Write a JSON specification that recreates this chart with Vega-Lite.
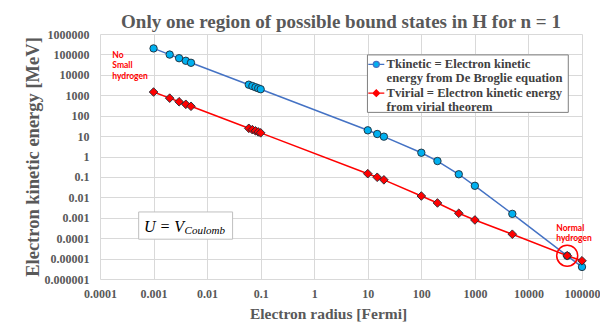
{
  "$schema": "https://vega.github.io/schema/vega-lite/v6.json",
  "width": 482,
  "height": 245,
  "autosize": {"type": "none"},
  "padding": {"left": 100, "top": 34, "right": 18, "bottom": 46},
  "background": "white",
  "title": {
    "text": "Only one region of possible bound states in H for n = 1",
    "font": "Liberation Serif",
    "fontSize": 19,
    "fontWeight": "bold",
    "color": "#595959",
    "anchor": "middle",
    "frame": "group",
    "baseline": "alphabetic",
    "offset": 7,
    "dy": 26
  },
  "datasets": {
    "pts": [
      {"r": 0.001, "T": 197000, "series": "Tkinetic"},
      {"r": 0.002, "T": 98150, "series": "Tkinetic"},
      {"r": 0.003, "T": 65270, "series": "Tkinetic"},
      {"r": 0.004, "T": 48820, "series": "Tkinetic"},
      {"r": 0.005, "T": 38950, "series": "Tkinetic"},
      {"r": 0.06, "T": 3290, "series": "Tkinetic"},
      {"r": 0.07, "T": 2819, "series": "Tkinetic"},
      {"r": 0.08, "T": 2466, "series": "Tkinetic"},
      {"r": 0.09, "T": 2192, "series": "Tkinetic"},
      {"r": 0.1, "T": 1973, "series": "Tkinetic"},
      {"r": 10, "T": 19.2, "series": "Tkinetic"},
      {"r": 15, "T": 12.65, "series": "Tkinetic"},
      {"r": 20, "T": 9.37, "series": "Tkinetic"},
      {"r": 100, "T": 1.53, "series": "Tkinetic"},
      {"r": 200, "T": 0.6, "series": "Tkinetic"},
      {"r": 500, "T": 0.135, "series": "Tkinetic"},
      {"r": 1000, "T": 0.0367, "series": "Tkinetic"},
      {"r": 5000, "T": 0.00155, "series": "Tkinetic"},
      {"r": 52918, "T": 0.0000136, "series": "Tkinetic"},
      {"r": 100000, "T": 0.0000039, "series": "Tkinetic"},
      {"r": 0.001, "T": 1440, "series": "Tvirial"},
      {"r": 0.002, "T": 720, "series": "Tvirial"},
      {"r": 0.003, "T": 480, "series": "Tvirial"},
      {"r": 0.004, "T": 360, "series": "Tvirial"},
      {"r": 0.005, "T": 288, "series": "Tvirial"},
      {"r": 0.06, "T": 24, "series": "Tvirial"},
      {"r": 0.07, "T": 20.6, "series": "Tvirial"},
      {"r": 0.08, "T": 18, "series": "Tvirial"},
      {"r": 0.09, "T": 16, "series": "Tvirial"},
      {"r": 0.1, "T": 14.4, "series": "Tvirial"},
      {"r": 10, "T": 0.144, "series": "Tvirial"},
      {"r": 15, "T": 0.096, "series": "Tvirial"},
      {"r": 20, "T": 0.072, "series": "Tvirial"},
      {"r": 100, "T": 0.0116, "series": "Tvirial"},
      {"r": 200, "T": 0.0053, "series": "Tvirial"},
      {"r": 500, "T": 0.00166, "series": "Tvirial"},
      {"r": 1000, "T": 0.00078, "series": "Tvirial"},
      {"r": 5000, "T": 0.000156, "series": "Tvirial"},
      {"r": 52918, "T": 0.0000138, "series": "Tvirial"},
      {"r": 100000, "T": 0.0000078, "series": "Tvirial"}
    ]
  },
  "layer": [
    {
      "data": {"name": "pts"},
      "mark": {"type": "line", "strokeWidth": 1.5},
      "encoding": {
        "x": {
          "field": "r", "type": "quantitative",
          "scale": {"type": "log", "domain": [0.0001, 100000], "nice": false},
          "axis": {
            "title": "Electron radius [Fermi]",
            "values": [0.0001, 0.001, 0.01, 0.1, 1, 10, 100, 1000, 10000, 100000],
            "format": "~f",
            "labelFlush": false,
            "labelPadding": 9,
            "titlePadding": 7,
            "titleX": 228,
            "titleFontSize": 15.5
          }
        },
        "y": {
          "field": "T", "type": "quantitative",
          "scale": {"type": "log", "domain": [0.000001, 1000000], "nice": false},
          "axis": {
            "title": "Electron kinetic energy  [MeV]",
            "values": [0.000001, 0.00001, 0.0001, 0.001, 0.01, 0.1, 1, 10, 100, 1000, 10000, 100000, 1000000],
            "format": "~f",
            "labelFlush": false,
            "labelPadding": 11,
            "titlePadding": 2,
            "titleFontSize": 18.5
          }
        },
        "color": {
          "field": "series", "type": "nominal",
          "scale": {"domain": ["Tkinetic", "Tkinetic2", "Tvirial", "Tvirial2"], "range": ["#4472C4", "#4472C4", "#FF0000", "#FF0000"]},
          "legend": {
            "orient": "none",
            "legendX": 266,
            "legendY": 20,
            "zindex": 5,
            "title": null,
            "padding": 4,
            "labelFont": "Liberation Serif",
            "labelFontSize": 12.6,
            "labelFontWeight": "bold",
            "labelColor": "#404040",
            "labelLimit": 400,
            "labelOffset": 4,
            "labelBaseline": "middle",
            "rowPadding": 0.2,
            "symbolSize": 100,
            "labelExpr": "datum.value == 'Tkinetic' ? 'Tkinetic = Electron kinetic' : datum.value == 'Tkinetic2' ? 'energy from De Broglie equation' : datum.value == 'Tvirial' ? 'Tvirial = Electron kinetic energy' : 'from virial theorem'",
            "encode": {
              "symbols": {
                "update": {
                  "shape": {"signal": "datum.value == 'Tkinetic' ? 'M-1.6,0L-0.6,0M0.6,0L1.6,0M0.6,0A0.6,0.6,0,1,1,-0.6,0A0.6,0.6,0,1,1,0.6,0Z' : 'M-1.6,0.3L-0.65,0.3M0.65,0.3L1.6,0.3M-0.65,0.3L0,-0.35L0.65,0.3L0,0.95Z'"},
                  "fill": {"signal": "datum.value == 'Tkinetic' ? '#00B0F0' : '#FF0000'"},
                  "stroke": {"signal": "datum.value == 'Tkinetic' ? '#4472C4' : '#FF0000'"},
                  "strokeWidth": {"value": 1.3},
                  "opacity": {"signal": "datum.value == 'Tkinetic' || datum.value == 'Tvirial' ? 1 : 0"},
                  "fillOpacity": {"value": 1}
                }
              },
              "labels": {"update": {"dy": {"signal": "datum.value == 'Tkinetic2' ? -2 : datum.value == 'Tvirial' ? 1.5 : 0"}}}
            }
          }
        }
      }
    },
    {
      "data": {"name": "pts"},
      "mark": {"type": "point", "filled": true, "stroke": "#1f2a36", "strokeWidth": 0.9, "opacity": 1},
      "encoding": {
        "x": {"field": "r", "type": "quantitative"},
        "y": {"field": "T", "type": "quantitative"},
        "fill": {
          "field": "series", "type": "nominal",
          "scale": {"domain": ["Tkinetic", "Tvirial"], "range": ["#00B0F0", "#FF0000"]},
          "legend": null
        },
        "shape": {
          "field": "series", "type": "nominal",
          "scale": {"domain": ["Tkinetic", "Tvirial"], "range": ["circle", "diamond"]},
          "legend": null
        },
        "size": {
          "field": "series", "type": "nominal",
          "scale": {"domain": ["Tkinetic", "Tvirial"], "range": [55, 75]},
          "legend": null
        }
      }
    },
    {
      "data": {"values": [{}]},
      "mark": {"type": "point", "shape": "circle", "filled": false, "stroke": "#FF0000", "strokeWidth": 1.5, "size": 441, "opacity": 1},
      "encoding": {
        "x": {"datum": 52918, "type": "quantitative"},
        "y": {"datum": 0.0000138, "type": "quantitative"}
      }
    },
    {
      "data": {"values": [{}]},
      "mark": {"type": "text", "font": "Lato", "fontWeight": "bold", "fontSize": 8.5, "color": "#FF0000", "align": "left", "baseline": "middle", "lineHeight": 10.5},
      "encoding": {
        "x": {"datum": 0.00017, "type": "quantitative"},
        "y": {"datum": 94600, "type": "quantitative"},
        "text": {"value": ["No", "Small", "hydrogen"]}
      }
    },
    {
      "data": {"values": [{}]},
      "mark": {"type": "text", "font": "Lato", "fontWeight": "bold", "fontSize": 8.5, "color": "#FF0000", "align": "left", "baseline": "middle", "lineHeight": 10},
      "encoding": {
        "x": {"datum": 33100, "type": "quantitative"},
        "y": {"datum": 0.000333, "type": "quantitative"},
        "text": {"value": ["Normal", "hydrogen"]}
      }
    },
    {
      "data": {"values": [{}]},
      "mark": {"type": "rect", "fill": "white", "stroke": "#bfbfbf", "strokeWidth": 1},
      "encoding": {
        "x": {"datum": 0.000527, "type": "quantitative"},
        "x2": {"datum": 0.0299},
        "y": {"datum": 0.00192, "type": "quantitative"},
        "y2": {"datum": 0.0000891}
      }
    },
    {
      "data": {"values": [{}]},
      "mark": {"type": "text", "font": "Liberation Serif", "fontStyle": "italic", "fontSize": 16, "color": "#000000", "align": "left", "baseline": "alphabetic"},
      "encoding": {
        "x": {"datum": 0.000662, "type": "quantitative"},
        "y": {"datum": 0.00019, "type": "quantitative"},
        "text": {"value": "U = V"}
      }
    },
    {
      "data": {"values": [{}]},
      "mark": {"type": "text", "font": "Liberation Serif", "fontStyle": "italic", "fontSize": 11, "color": "#000000", "align": "left", "baseline": "alphabetic"},
      "encoding": {
        "x": {"datum": 0.0038, "type": "quantitative"},
        "y": {"datum": 0.000166, "type": "quantitative"},
        "text": {"value": "Coulomb"}
      }
    },
    {
      "data": {"values": [{}]},
      "mark": {"type": "rect", "fill": "white", "stroke": "#7f7f7f", "strokeWidth": 1},
      "encoding": {
        "x": {"datum": 9.86, "type": "quantitative"},
        "x2": {"datum": 55460},
        "y": {"datum": 94600, "type": "quantitative"},
        "y2": {"datum": 144.9}
      }
    }
  ],
  "config": {
    "view": {"stroke": null},
    "axis": {
      "domain": false,
      "ticks": false,
      "grid": true,
      "gridColor": "#d9d9d9",
      "gridWidth": 1,
      "labelFont": "Liberation Serif",
      "labelFontSize": 12,
      "labelFontWeight": "bold",
      "labelColor": "#595959",
      "titleFont": "Liberation Serif",
      "titleFontWeight": "bold",
      "titleColor": "#595959"
    }
  }
}
